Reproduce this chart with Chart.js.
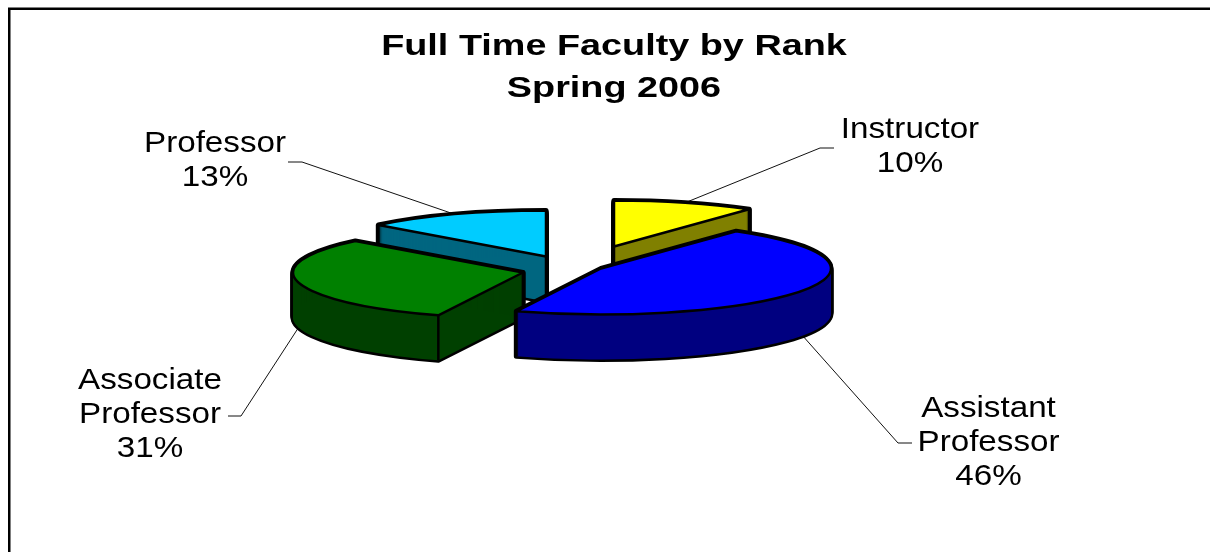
<!DOCTYPE html>
<html>
<head>
<meta charset="utf-8">
<style>
html,body{margin:0;padding:0;background:#fff;overflow:hidden}
canvas{display:block}
</style>
<script src="https://cdn.jsdelivr.net/npm/chart.js@4"></script>
</head>
<body>
<canvas id="c" width="1210" height="552"></canvas>
<script>
// Data
const categories = ['Instructor', 'Assistant Professor', 'Associate Professor', 'Professor'];
const values = [10, 46, 31, 13];
const titleLines = ['Full Time Faculty by Rank', 'Spring 2006'];

// Styles and layout of the 3-D look
const topColors = ['#FFFF00', '#0000FF', '#008000', '#00CCFF'];
const wallColors = ['#808000', '#000080', '#004000', '#006680'];
const explodeX = [49, 36, -42, -19];
const explodeY = [-14, 8, 12, -4];
const drawOrder = [0, 3, 2, 1];
const tilt = 0.2;
const depth = 45;
const radiusPx = 230;
const labelCenterX = [910, 988.5, 150, 215];
const labelFirstBaseline = [138, 417, 389, 151.5];
const labelStep = 34;
const elbowX = [820, 898, 241, 302];
const elbowY = [148, 443, 416, 162];
const stubEndX = [834, 912, 228, 288];
const labelStretch = 1.106;
const titleStretch = 1.26;
const titleCenterX = 614;

function sectorPath(ctx, a, ox, oy) {
  ctx.save();
  ctx.translate(a.x + ox, a.y + oy);
  ctx.scale(1, tilt);
  ctx.beginPath();
  ctx.moveTo(0, 0);
  ctx.arc(0, 0, a.outerRadius, a.startAngle, a.endAngle);
  ctx.closePath();
  ctx.restore();
}

const pie3d = {
  id: 'pie3d',
  afterInit(chart) {
    const box = chart.titleBlock;
    const orig = box.draw.bind(box);
    box.draw = function () {
      const ctx = chart.ctx;
      const mid = (box.left + box.right) / 2;
      ctx.save();
      ctx.translate(titleCenterX, 0);
      ctx.scale(titleStretch, 1);
      ctx.translate(-mid, 0);
      orig();
      ctx.restore();
    };
  },
  beforeDraw(chart) {
    const ctx = chart.ctx;
    ctx.save();
    ctx.fillStyle = '#fff';
    ctx.fillRect(0, 0, chart.width, chart.height);
    ctx.strokeStyle = '#000';
    ctx.lineWidth = 2.5;
    ctx.beginPath();
    ctx.moveTo(9.25, chart.height);
    ctx.lineTo(9.25, 8.75);
    ctx.lineTo(chart.width, 8.75);
    ctx.stroke();
    ctx.restore();
  },
  beforeDatasetsDraw(chart) {
    const ctx = chart.ctx;
    const arcs = chart.getDatasetMeta(0).data;
    ctx.save();
    ctx.lineJoin = 'round';

    // leader lines sit underneath the slices
    ctx.strokeStyle = '#111';
    ctx.lineWidth = 1;
    arcs.forEach((a, i) => {
      const m = (a.startAngle + a.endAngle) / 2;
      const front = Math.sin(m) > 0 ? depth : 0;
      ctx.beginPath();
      ctx.moveTo(a.x + explodeX[i] + Math.cos(m) * a.outerRadius,
                 a.y + explodeY[i] + Math.sin(m) * a.outerRadius * tilt + front);
      ctx.lineTo(elbowX[i], elbowY[i]);
      ctx.lineTo(stubEndX[i], elbowY[i]);
      ctx.stroke();
    });

    drawOrder.forEach(i => {
      const a = arcs[i];
      const ox = explodeX[i], oy = explodeY[i];
      // silhouette of the extruded slice
      ctx.strokeStyle = '#000';
      ctx.lineWidth = 5;
      for (let d = 0; d <= depth; d += 1) { sectorPath(ctx, a, ox, oy + d); ctx.stroke(); }
      ctx.fillStyle = wallColors[i];
      for (let d = 0; d <= depth; d += 1) { sectorPath(ctx, a, ox, oy + d); ctx.fill(); }
      // vertical wall edges
      ctx.lineWidth = 2.5;
      [[0, 0],
       [Math.cos(a.startAngle) * a.outerRadius, Math.sin(a.startAngle) * a.outerRadius * tilt],
       [Math.cos(a.endAngle) * a.outerRadius, Math.sin(a.endAngle) * a.outerRadius * tilt]
      ].forEach(p => {
        ctx.beginPath();
        ctx.moveTo(a.x + ox + p[0], a.y + oy + p[1]);
        ctx.lineTo(a.x + ox + p[0], a.y + oy + p[1] + depth);
        ctx.stroke();
      });
      // top face
      sectorPath(ctx, a, ox, oy);
      ctx.fillStyle = topColors[i];
      ctx.fill();
      ctx.lineWidth = 2.5;
      ctx.stroke();
    });
    ctx.restore();
    return false;
  },
  afterDraw(chart) {
    const ctx = chart.ctx;
    const total = values.reduce((s, v) => s + v, 0);
    ctx.save();
    ctx.fillStyle = '#000';
    ctx.font = '30px "Liberation Sans", Arial, sans-serif';
    ctx.textAlign = 'center';
    ctx.textBaseline = 'alphabetic';
    categories.forEach((name, i) => {
      const lines = name.split(' ').concat(Math.round(values[i] / total * 100) + '%');
      lines.forEach((t, k) => {
        ctx.save();
        ctx.translate(labelCenterX[i], labelFirstBaseline[i] + k * labelStep);
        ctx.scale(labelStretch, 1);
        ctx.fillText(t, 0, 0);
        ctx.restore();
      });
    });
    ctx.restore();
  }
};

new Chart(document.getElementById('c'), {
  type: 'pie',
  data: {
    labels: categories,
    datasets: [{ data: values, backgroundColor: topColors, borderColor: '#000', borderWidth: 2 }]
  },
  options: {
    responsive: false,
    animation: false,
    radius: radiusPx,
    layout: { padding: { left: 0, top: 0, right: 80, bottom: 141 } },
    plugins: {
      legend: { display: false },
      tooltip: { enabled: false },
      title: {
        display: true,
        text: titleLines,
        color: '#000',
        font: { family: '"Liberation Sans", Arial, sans-serif', size: 30, weight: 'bold', lineHeight: 1.4 },
        padding: { top: 26, bottom: 0 }
      }
    }
  },
  plugins: [pie3d]
});
</script>
</body>
</html>
